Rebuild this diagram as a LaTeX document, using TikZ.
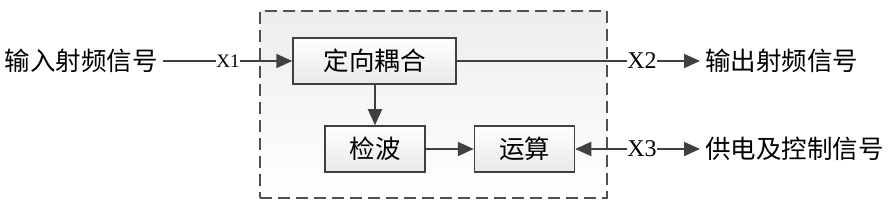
\documentclass[tikz,border=0pt]{standalone}
\usepackage{fontspec}
\setmainfont{Liberation Serif}
\newfontfamily\cjk{Noto Sans CJK SC}
\usetikzlibrary{arrows.meta,positioning}
\definecolor{traco}{HTML}{404040}
\definecolor{moldura}{HTML}{505050}
\tikzset{
  bloco/.style={draw=traco, line width=1.5pt, minimum height=46pt, inner sep=0pt,
    top color=white, bottom color=black!9, font=\cjk\fontsize{25.5}{28}\selectfont},
  modulo/.style={draw=moldura, line width=1.6pt, dash pattern=on 12pt off 6pt,
    top color=black!7, bottom color=white, inner sep=0pt},
  rotulo/.style={inner sep=5pt, font=\cjk\fontsize{25.5}{28}\selectfont},
  porta/.style={inner sep=0pt, font=\fontsize{24}{28}\selectfont},
  seta/.style={-{Triangle[length=16pt,width=14pt]}, draw=traco, line width=2pt},
  linha/.style={draw=traco, line width=2pt},
}

\begin{document}
\begin{tikzpicture}[x=1pt, y=1pt]
    \useasboundingbox (0,0) rectangle (895,209);
    % moldura tracejada
    \node[modulo, minimum width=347pt, minimum height=187pt] (caixa) at (433.5,104.5) {};
    % blocos internos
    \node[bloco, minimum width=163pt] (acoplador) at (374.5,148) {定向耦合};
    \node[bloco, minimum width=100pt] (detetor) at (375,60) {检波};
    \node[bloco, minimum width=100pt, right=48pt of detetor] (calculo) {运算};
    % portas
    \node[porta, font=\fontsize{19}{22}\selectfont] (x1) at (228,148) {X1};
    \node[porta] (x2) at (642,148) {X2};
    \node[porta] (x3) at (642,60) {X3};
    % sinais externos
    \node[rotulo, anchor=east] (entrada) at (163,148) {输入射频信号};
    \node[rotulo, anchor=west] (saida) at (700,148) {输出射频信号};
    \node[rotulo, anchor=west] (controle) at (700,60) {供电及控制信号};
    \draw[linha] (entrada.east) -- (x1.west);
    \draw[seta] (x1.east) -- (acoplador.west);
    \draw[linha] (acoplador.east) -- (x2.west);
    \draw[seta] (x2.east) -- (saida.west);
    \draw[seta] (acoplador.south -| detetor.north) -- (detetor.north);
    \draw[seta] (detetor.east) -- (calculo.west);
    \draw[seta] (x3.west) -- (calculo.east);
    \draw[seta] (x3.east) -- (controle.west);
  \end{tikzpicture}
\end{document}
